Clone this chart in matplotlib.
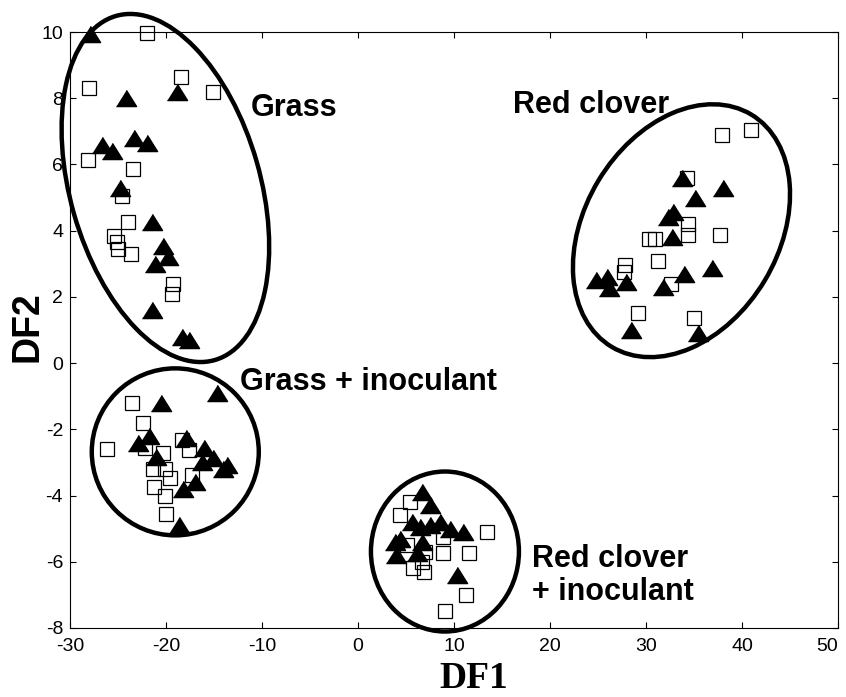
import matplotlib
matplotlib.use('Agg')
import matplotlib.pyplot as plt
from matplotlib.patches import Ellipse
from matplotlib.transforms import Affine2D

plt.rcParams['font.family'] = ['Liberation Sans', 'DejaVu Sans']
plt.rcParams['axes.unicode_minus'] = False

# discriminant scores (open squares / filled triangles)
grass_sq_x = [-22.0, -18.4, -28.0, -15.1, -28.1, -23.4, -24.6, -24.0, -25.4, -25.1, -25.0, -23.6, -19.3, -19.4]
grass_sq_y = [9.97, 8.65, 8.3, 8.2, 6.15, 5.85, 5.05, 4.25, 3.85, 3.65, 3.45, 3.3, 2.4, 2.1]
grass_tri_x = [-27.9, -24.2, -18.9, -26.7, -25.6, -23.3, -22.0, -24.8, -21.5, -20.3, -21.1, -19.8, -21.5, -18.3, -17.6]
grass_tri_y = [9.95, 8.0, 8.2, 6.6, 6.4, 6.8, 6.65, 5.3, 4.25, 3.55, 3.0, 3.2, 1.6, 0.8, 0.7]

rc_sq_x = [37.9, 40.9, 34.3, 34.4, 34.4, 37.7, 30.3, 30.9, 31.3, 27.8, 27.7, 32.6, 29.2, 35.0]
rc_sq_y = [6.89, 7.04, 5.6, 4.2, 3.87, 3.87, 3.75, 3.75, 3.1, 2.96, 2.75, 2.4, 1.5, 1.35]
rc_tri_x = [33.75, 38.0, 35.1, 32.8, 32.3, 32.7, 36.9, 34.0, 31.8, 24.8, 25.9, 26.1, 27.9, 28.4, 35.4]
rc_tri_y = [5.6, 5.3, 5.0, 4.55, 4.4, 3.8, 2.87, 2.7, 2.3, 2.5, 2.6, 2.27, 2.45, 1.0, 0.9]

gi_sq_x = [-23.5, -22.4, -26.1, -22.2, -20.3, -18.3, -17.6, -21.4, -20.1, -19.6, -17.3, -21.25, -20.1, -20.0]
gi_sq_y = [-1.2, -1.8, -2.6, -2.57, -2.7, -2.33, -2.63, -3.2, -3.2, -3.47, -3.38, -3.75, -4.0, -4.55]
gi_tri_x = [-20.5, -14.7, -22.9, -21.8, -21.0, -17.9, -16.0, -16.25, -15.1, -13.6, -14.1, -17.0, -18.2, -18.6]
gi_tri_y = [-1.2, -0.9, -2.4, -2.2, -2.85, -2.27, -2.57, -3.0, -2.87, -3.08, -3.2, -3.6, -3.8, -4.9]

rci_sq_x = [5.4, 4.4, 8.9, 13.4, 5.1, 7.0, 8.9, 11.6, 5.7, 6.7, 6.9, 11.25, 9.06]
rci_sq_y = [-4.2, -4.6, -5.25, -5.1, -5.5, -5.7, -5.74, -5.74, -6.2, -6.0, -6.3, -7.0, -7.5]
rci_tri_x = [6.7, 7.5, 5.6, 6.5, 7.5, 8.5, 9.6, 10.9, 4.4, 3.85, 6.7, 4.0, 6.1, 10.3]
rci_tri_y = [-3.9, -4.3, -4.8, -4.95, -4.9, -4.8, -5.0, -5.1, -5.3, -5.4, -5.4, -5.8, -5.74, -6.4]

xticks = [-30, -20, -10, 0, 10, 20, 30, 40, 50]
yticks = [-8, -6, -4, -2, 0, 2, 4, 6, 8, 10]

fig = plt.figure(figsize=(8.46, 6.97), dpi=100)
ax = fig.add_axes([0.0827, 0.099, 0.9078, 0.855])
ax.set_xlim(-30, 50)
ax.set_ylim(-8, 10)

sq_x = grass_sq_x + rc_sq_x + gi_sq_x + rci_sq_x
sq_y = grass_sq_y + rc_sq_y + gi_sq_y + rci_sq_y
tri_x = grass_tri_x + rc_tri_x + gi_tri_x + rci_tri_x
tri_y = grass_tri_y + rc_tri_y + gi_tri_y + rci_tri_y

tri = [(-1, -0.8), (1, -0.8), (0, 0.8)]
ax.plot(sq_x, sq_y, 's', ms=10, mfc='none', mec='black', mew=0.9, clip_on=False)
ax.plot(tri_x, tri_y, ls='none', marker=tri, ms=14.5, mfc='black', mec='black', clip_on=False)

# group ellipses, sizes given in pixels so the tilt looks right on screen
pos = ax.get_position()
sx = pos.width * fig.get_figwidth() * fig.dpi / 80.0
sy = pos.height * fig.get_figheight() * fig.dpi / 18.0

def group_ellipse(cx, cy, w, h, angle):
    tr = Affine2D().scale(1 / sx, 1 / sy).translate(cx, cy) + ax.transData
    e = Ellipse((0, 0), w, h, angle=angle, transform=tr, fill=False,
                lw=3.2, ec='black', clip_on=False)
    ax.add_patch(e)

group_ellipse(-20.06, 5.29, 358, 190, 106)
group_ellipse(33.7, 4.0, 271, 194, 59)
group_ellipse(-19.03, -2.68, 167, 167, 0)
group_ellipse(9.06, -5.69, 148, 160, 0)

lab = dict(fontsize=22, fontweight='bold', va='baseline')
ax.text(-11.15, 7.46, 'Grass', **lab)
ax.text(16.15, 7.55, 'Red clover', **lab)
ax.text(-12.3, -0.82, 'Grass + inoculant', **lab)
ax.text(18.1, -6.16, 'Red clover', **lab)
ax.text(18.1, -7.16, '+ inoculant', **lab)

ax.set_xticks(xticks)
ax.set_yticks(yticks)
ax.tick_params(direction='in', top=True, right=True, length=4, width=0.8,
               labelsize=14)
ax.tick_params(axis='x', pad=7)
ax.tick_params(axis='y', pad=5)
for s in ax.spines.values():
    s.set_linewidth(0.8)
# last x label would run off the right edge
ax.get_xticklabels()[-1].set_ha('right')

fig.text(474 / 846, 1 - 678 / 697, 'DF1', fontsize=27, fontweight='bold',
         family='Liberation Serif', ha='center', va='center')
fig.text(27 / 846, 1 - 327 / 697, 'DF2', fontsize=27, fontweight='bold',
         rotation=90, ha='center', va='center')

fig.savefig('out.png', dpi=100)
